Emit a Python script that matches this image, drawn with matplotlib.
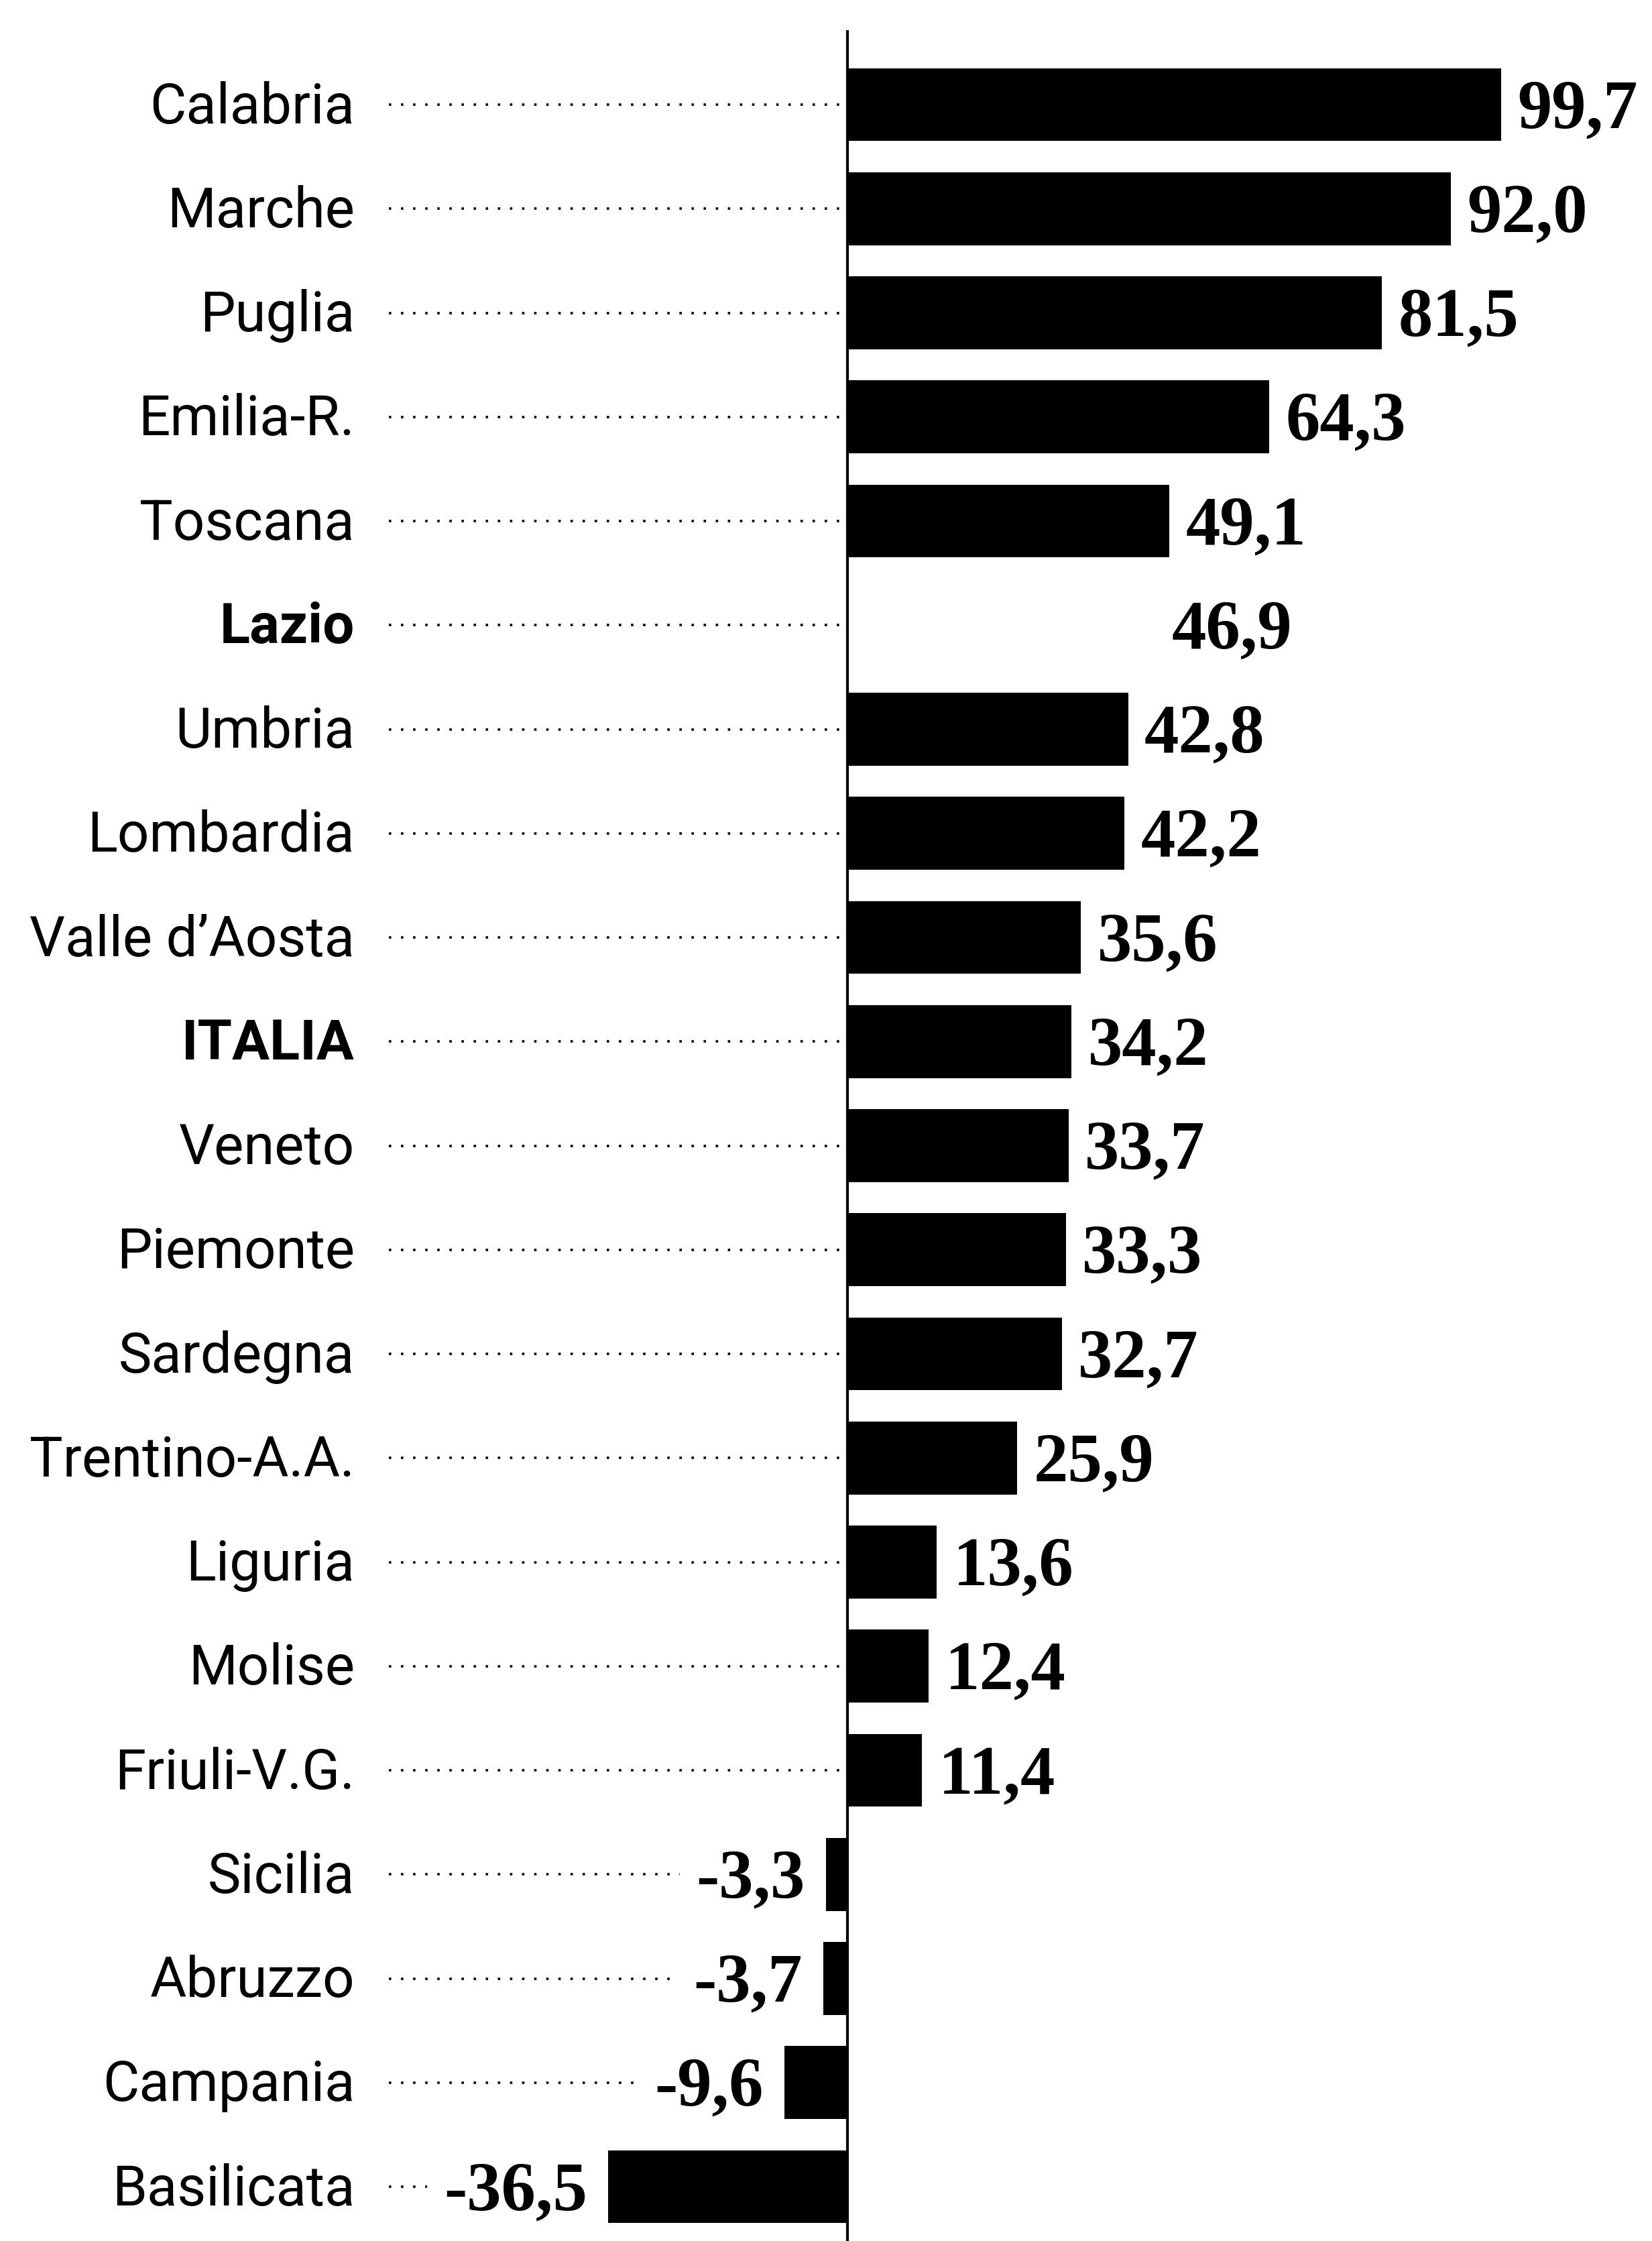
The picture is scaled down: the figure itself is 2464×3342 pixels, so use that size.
import matplotlib
matplotlib.use("Agg")
import matplotlib.pyplot as plt

# Data (percent change), top to bottom as printed
regions = ["Calabria", "Marche", "Puglia", "Emilia-R.", "Toscana", "Lazio",
           "Umbria", "Lombardia", "Valle d\u2019Aosta", "ITALIA", "Veneto",
           "Piemonte", "Sardegna", "Trentino-A.A.", "Liguria", "Molise",
           "Friuli-V.G.", "Sicilia", "Abruzzo", "Campania", "Basilicata"]
values = [99.7, 92.0, 81.5, 64.3, 49.1, 46.9, 42.8, 42.2, 35.6, 34.2, 33.7,
          33.3, 32.7, 25.9, 13.6, 12.4, 11.4, -3.3, -3.7, -9.6, -36.5]
bold_rows = ["Lazio", "ITALIA"]
blank_rows = ["Lazio"]  # bar did not print in the scan

W, H = 2464, 3342
fig = plt.figure(figsize=(W / 100, H / 100), dpi=100)
ax = fig.add_axes([0, 0, 1, 1])
ax.axis("off")

# scale: pixels per unit and zero position
k = 9.78
zero_px = 1264
ax.set_xlim(-zero_px / k, (W - zero_px) / k)
row0_px, step_px = 156, 155.25
ax.set_ylim(len(values) - 1 + (H - row0_px - (len(values) - 1) * step_px) / step_px,
            -row0_px / step_px)

ypos = list(range(len(values)))
colors = ["white" if r in blank_rows else "black" for r in regions]
ax.barh(ypos, values, height=0.7, color=colors, zorder=2)

# zero line
ax.plot([0, 0], [(47 - row0_px) / step_px, ax.get_ylim()[0]],
        color="black", lw=3, zorder=3)

label_x = (529 - zero_px) / k
lead_x = (580 - zero_px) / k

num_texts = []
for y, r, v in zip(ypos, regions, values):
    ax.text(label_x, y + 0.03, r, ha="right", va="center",
            fontsize=60, family=["Roboto", "DejaVu Sans"],
            fontweight="bold" if r in bold_rows else "normal")
    s = f"{v:.1f}".replace(".", ",")
    if v >= 0:
        t = ax.text(v + 2.5, y + 0.06, s, ha="left", va="center",
                    fontsize=74, family="Liberation Serif", fontweight="bold")
    else:
        t = ax.text(v - 3.2, y + 0.06, s, ha="right", va="center",
                    fontsize=74, family="Liberation Serif", fontweight="bold")
    num_texts.append(t)

fig.canvas.draw()
inv = ax.transData.inverted()
for y, v, t in zip(ypos, values, num_texts):
    if v >= 0:
        end = 0
    else:
        bb = t.get_window_extent()
        end = inv.transform((bb.x0, 0))[0] - 2.5
    ax.plot([lead_x, end], [y, y], color="black", lw=2.6,
            linestyle=(0, (1, 4)), zorder=1)

fig.savefig("out.png", dpi=100, facecolor="white")
